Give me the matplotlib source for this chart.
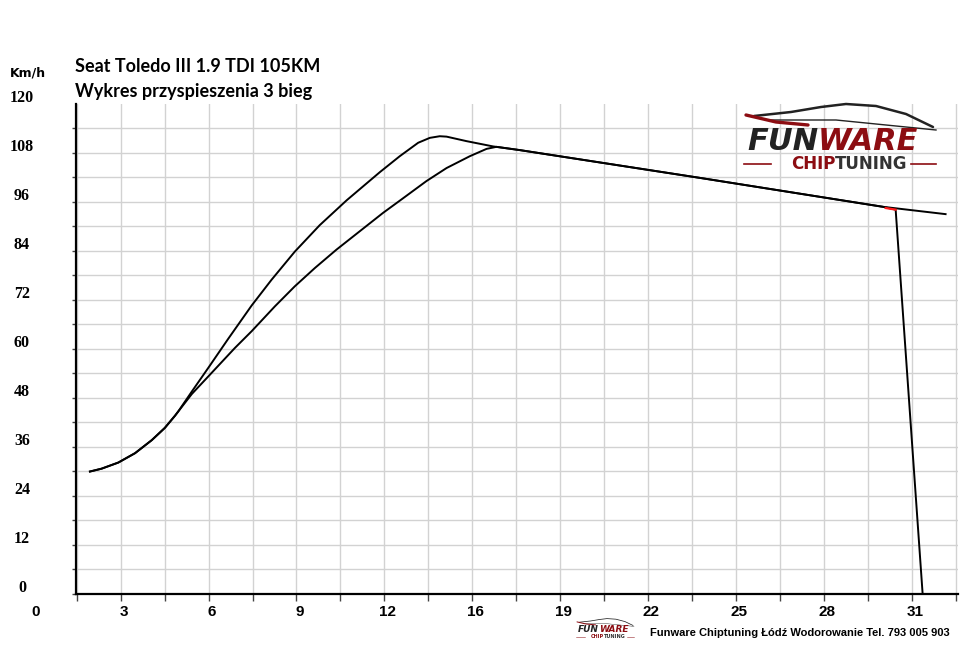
import numpy as np
import matplotlib
matplotlib.use("Agg")
import matplotlib.pyplot as plt
from matplotlib import transforms

# data: time [s] vs speed [km/h]
time_a = [2.02, 2.43, 3.02, 3.61, 4.20, 4.66, 5.02, 5.13, 5.61, 6.19, 6.89, 7.72,
          8.42, 9.24, 10.12, 11.07, 12.24, 12.94, 13.59, 14.00, 14.35, 14.59, 15.29,
          16.23, 17.17, 23.51, 29.97, 32.18]
speed_a = [29.9, 30.6, 32.1, 34.4, 37.6, 40.6, 43.6, 44.6, 49.5, 55.3, 62.4, 70.6,
           76.9, 83.8, 90.3, 96.4, 103.3, 107.2, 110.5, 111.7, 112.1, 112.0, 110.9,
           109.6, 108.7, 101.9, 94.8, 93.0]

time_b = [2.02, 2.43, 3.02, 3.61, 4.20, 4.66, 5.02, 5.13, 5.61, 6.19, 7.13, 7.72,
          8.54, 9.24, 9.95, 10.71, 12.35, 13.00, 13.88, 14.59, 15.41, 16.00, 16.35,
          17.17, 23.51, 29.97, 30.42, 31.37]
speed_b = [29.9, 30.6, 32.1, 34.4, 37.6, 40.6, 43.6, 44.6, 48.9, 53.2, 60.2, 64.3,
           70.4, 75.3, 79.8, 84.3, 93.3, 96.6, 101.1, 104.3, 107.2, 109.0, 109.5,
           108.7, 101.9, 94.8, 94.1, 0.0]

# red marker where the run ends
end_time = [30.07, 30.42]
end_speed = [94.5, 94.1]

x_tick_pos = [0, 3.1, 6.2, 9.3, 12.4, 15.5, 18.6, 21.7, 24.8, 27.9, 31.0]
x_tick_lab = ["0", "3", "6", "9", "12", "16", "19", "22", "25", "28", "31"]
y_tick_lab = [0, 12, 24, 36, 48, 60, 72, 84, 96, 108, 120]

title1 = "Seat Toledo III 1.9 TDI 105KM"
title2 = "Wykres przyspieszenia 3 bieg"
footer = "Funware Chiptuning Łódź Wodorowanie Tel. 793 005 903"

W, H = 960, 657
fig = plt.figure(figsize=(W / 100, H / 100), dpi=100)


def fx(x):
    return x / W


def fy(y):
    return 1 - y / H


ax = fig.add_axes([fx(75.7), fy(593.5), fx(957.5) - fx(75.7), fy(104) - fy(593.5)])
ax.set_xlim(1.518, 32.6)
ax.set_ylim(0, 120)

ax.set_xticks(np.arange(1, 22) * 1.55)
ax.set_yticks(np.arange(0, 115, 6))
ax.set_xticklabels([])
ax.set_yticklabels([])
ax.grid(True, color="#d2d2d2", lw=1.0)
ax.set_axisbelow(True)
ax.tick_params(axis="x", direction="out", length=5, width=1, color="#444444")
ax.tick_params(axis="y", direction="out", length=3, width=1, color="#444444")
for s in ["top", "right"]:
    ax.spines[s].set_visible(False)
for s in ["left", "bottom"]:
    ax.spines[s].set_linewidth(1.6)
    ax.spines[s].set_color("black")

ax.plot(time_a, speed_a, color="black", lw=1.4, solid_joinstyle="round")
ax.plot(time_b, speed_b, color="black", lw=1.4, solid_joinstyle="round")
ax.plot(end_time, end_speed, color="#ff1a1a", lw=1.6)

# tick labels placed like the original (slightly offset from their gridlines)
xt = transforms.offset_copy(transforms.blended_transform_factory(ax.transData, ax.transAxes),
                            fig=fig, x=3, y=0, units="dots")
for p, lab in zip(x_tick_pos, x_tick_lab):
    ax.text(p, -0.037, lab, transform=xt, ha="center", va="center", fontsize=11,
            fontweight="bold", family="Liberation Sans", clip_on=False)

yt = transforms.offset_copy(transforms.blended_transform_factory(fig.transFigure, ax.transData),
                            fig=fig, x=0, y=6, units="dots")
for v in y_tick_lab:
    ax.text(fx(22), v, str(v), transform=yt, ha="center", va="center", fontsize=11.5,
            fontweight="bold", family="Liberation Serif", clip_on=False)

fig.text(fx(28), fy(73), "Km/h", ha="center", va="center", fontsize=9,
         fontweight="bold", family="DejaVu Sans")
fig.text(fx(75), fy(66), title1, ha="left", va="center", fontsize=13,
         fontweight="bold", family="Lato")
fig.text(fx(75), fy(92), title2, ha="left", va="center", fontsize=13,
         fontweight="bold", family="Lato")

# logo (top right) drawn in pixel coordinates
red = "#8c0d12"
dark = "#222222"
ov = fig.add_axes([0, 0, 1, 1], facecolor="none")
ov.set_xlim(0, W)
ov.set_ylim(H, 0)
ov.axis("off")


def logo(x0, y0, s, fs_main, fs_sub):
    # car silhouette
    ov.plot([x0 + 8 * s, x0 + 45 * s, x0 + 75 * s, x0 + 100 * s, x0 + 130 * s,
             x0 + 160 * s, x0 + 187 * s],
            [y0 - 26 * s, y0 - 30 * s, y0 - 35 * s, y0 - 38 * s, y0 - 36 * s,
             y0 - 28 * s, y0 - 15 * s],
            color=dark, lw=1.8 * s, solid_capstyle="round")
    ov.plot([x0 + 20 * s, x0 + 90 * s, x0 + 190 * s],
            [y0 - 22 * s, y0 - 22 * s, y0 - 12 * s], color=dark, lw=1.0 * s)
    ov.plot([x0 + 0 * s, x0 + 30 * s, x0 + 62 * s],
            [y0 - 27 * s, y0 - 20 * s, y0 - 17 * s], color=red, lw=2.4 * s,
            solid_capstyle="round")
    split = x0 + 72 * s
    ov.text(split, y0, "FUN", color=dark, ha="right", va="center", fontsize=fs_main,
            fontweight="heavy", fontstyle="italic", family="DejaVu Sans")
    ov.text(split, y0, "WARE", color=red, ha="left", va="center", fontsize=fs_main,
            fontweight="heavy", fontstyle="italic", family="DejaVu Sans")
    split2 = x0 + 89 * s
    ov.text(split2, y0 + 22 * s, "CHIP", color=red, ha="right", va="center",
            fontsize=fs_sub, fontweight="bold", family="DejaVu Sans")
    ov.text(split2, y0 + 22 * s, "TUNING", color="#333333", ha="left", va="center",
            fontsize=fs_sub, fontweight="bold", family="DejaVu Sans")
    ov.plot([x0 - 2 * s, x0 + 25 * s], [y0 + 22 * s, y0 + 22 * s], color=red, lw=1.2 * s)
    ov.plot([x0 + 165 * s, x0 + 190 * s], [y0 + 22 * s, y0 + 22 * s], color=red, lw=1.2 * s)


logo(746, 142, 1.0, 22, 12)
logo(577, 630, 0.3, 6.5, 3.5)

fig.text(fx(950), fy(633), footer, ha="right", va="center", fontsize=8,
         fontweight="bold", family="Liberation Sans")

fig.savefig("out.png", dpi=100, facecolor="white")
